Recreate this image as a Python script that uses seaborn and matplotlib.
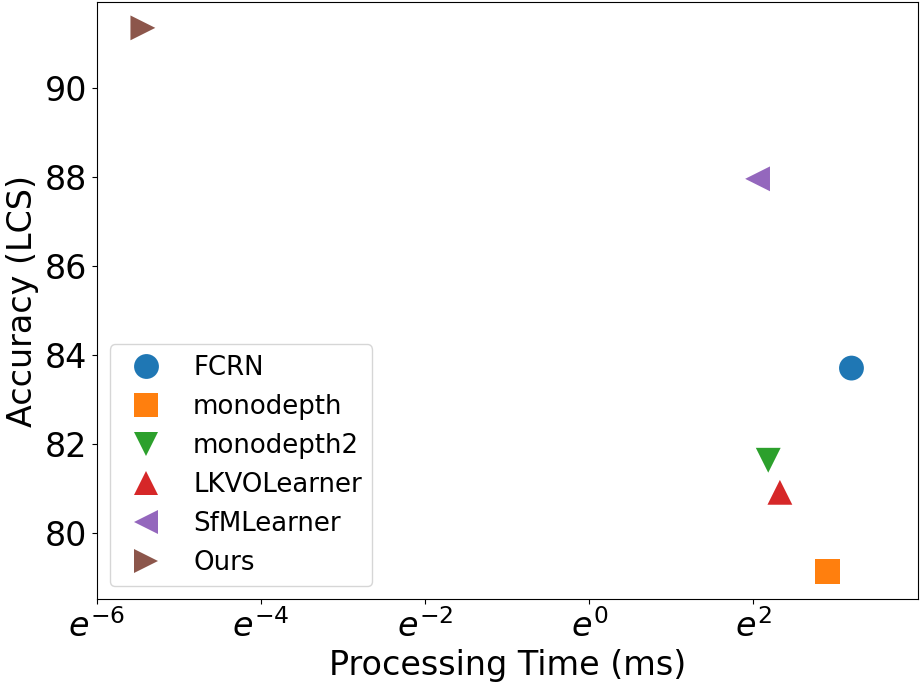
import numpy as np
import pandas as pd
import matplotlib
matplotlib.use("Agg")
import matplotlib.pyplot as plt
from matplotlib.ticker import FuncFormatter
import seaborn as sns

# values (time in ms, accuracy in LCS)
methods = ["FCRN", "monodepth", "monodepth2", "LKVOLearner", "SfMLearner", "Ours"]
proc_time = [24.4, 18.2, 8.85, 10.2, 7.77, 0.00434]
accuracy = [83.71, 79.15, 81.64, 80.92, 87.96, 91.35]
marker_list = ["o", "s", "v", "^", "<", ">"]
x_tick_powers = [-6, -4, -2, 0, 2]

df = pd.DataFrame({"method": methods, "time": proc_time, "acc": accuracy})

fig, ax = plt.subplots(figsize=(9.23, 6.84), dpi=100)
sns.scatterplot(data=df, x="time", y="acc", hue="method", style="method",
                markers=marker_list, palette="tab10", s=320, linewidth=0, ax=ax)

ax.set_xscale("log", base=np.e)
ax.set_xticks(np.exp(x_tick_powers))
ax.xaxis.set_major_formatter(
    FuncFormatter(lambda v, pos: r"$e^{%d}$" % round(np.log(v))))
ax.minorticks_off()
ax.set_xlim(np.exp(-6), np.exp(4.01))
ax.set_ylim(78.52, 91.93)

ax.set_xlabel("Processing Time (ms)", fontsize=24)
ax.set_ylabel("Accuracy (LCS)", fontsize=24)
ax.tick_params(labelsize=24)

handles, labels = ax.get_legend_handles_labels()
ax.legend(handles, labels, loc="lower left", fontsize=18.7, labelspacing=0.5)

fig.subplots_adjust(left=0.105, right=0.995, top=0.997, bottom=0.124)
plt.savefig("out.png", dpi=100)
plt.close()
